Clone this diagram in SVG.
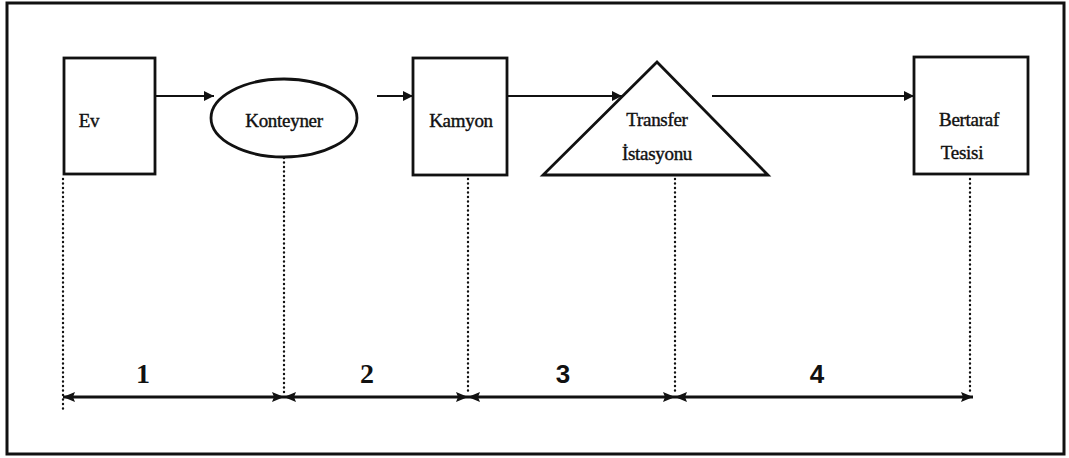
<svg xmlns="http://www.w3.org/2000/svg" width="1069" height="458" viewBox="0 0 1069 458">
<style>
.shape{fill:#fff;stroke:#111;stroke-width:2.8}
.lbl{font-family:"Liberation Serif","Times New Roman",serif;font-size:19px;fill:#111;stroke:#111;stroke-width:0.4;text-anchor:middle;letter-spacing:-0.3px}
.flow{stroke:#111;stroke-width:2;fill:none}
.dot{stroke:#111;stroke-width:2.4;stroke-linecap:round;stroke-dasharray:0 4.5;fill:none}
.dim{stroke:#111;stroke-width:2.8;fill:none}
.numS{font-family:"Liberation Serif","Times New Roman",serif;font-size:28px;font-weight:bold;fill:#111;text-anchor:middle}
.numA{font-family:"Liberation Sans",Arial,sans-serif;font-size:26px;font-weight:bold;fill:#111;text-anchor:middle}
</style>
<defs>
<marker id="ah" viewBox="0 0 10 10" refX="10" refY="5" markerWidth="10" markerHeight="10" markerUnits="userSpaceOnUse" orient="auto-start-reverse">
<path d="M0,0 L10,5 L0,10 z" fill="#111"/>
</marker>
<marker id="dh" viewBox="0 0 12 10" refX="12" refY="5" markerWidth="12" markerHeight="10" markerUnits="userSpaceOnUse" orient="auto-start-reverse">
<path d="M0,0 L12,5 L0,10 L2,5 z" fill="#111"/>
</marker>
</defs>
<rect x="0" y="0" width="1069" height="458" fill="#fff"/>
<rect x="7" y="3" width="1057" height="451" fill="none" stroke="#111" stroke-width="3"/>

<g id="ev">
<rect class="shape" x="64" y="58" width="91" height="116"/>
<text class="lbl" x="89" y="127">Ev</text>
</g>
<g id="konteyner">
<ellipse class="shape" cx="284" cy="118" rx="73" ry="39"/>
<text class="lbl" x="284" y="127">Konteyner</text>
</g>
<g id="kamyon">
<rect class="shape" x="413" y="58" width="94" height="117"/>
<text class="lbl" x="461" y="127">Kamyon</text>
</g>
<g id="transfer">
<polygon class="shape" points="657,62 543,175 768,175"/>
<text class="lbl" x="657" y="126">Transfer</text>
<text class="lbl" x="657" y="160">İstasyonu</text>
</g>
<g id="bertaraf">
<rect class="shape" x="914" y="57" width="114" height="117"/>
<text class="lbl" x="969" y="126">Bertaraf</text>
<text class="lbl" x="962" y="159">Tesisi</text>
</g>

<g id="connectors">
<line class="flow" x1="155" y1="96" x2="214" y2="96" stroke-width="2.8" marker-end="url(#ah)"/>
<line class="flow" x1="377" y1="96" x2="413" y2="96" marker-end="url(#ah)"/>
<line class="flow" x1="507" y1="96" x2="622" y2="96" marker-end="url(#ah)"/>
<line class="flow" x1="712" y1="96" x2="914" y2="96" marker-end="url(#ah)"/>
</g>

<g id="guides">
<line class="dot" x1="63" y1="179" x2="63" y2="410"/>
<line class="dot" x1="284" y1="158" x2="284" y2="395"/>
<line class="dot" x1="468" y1="179" x2="468" y2="395"/>
<line class="dot" x1="675" y1="179" x2="675" y2="395"/>
<line class="dot" x1="970" y1="179" x2="970" y2="393"/>
</g>

<g id="dimensions">
<line class="dim" x1="63" y1="397" x2="284" y2="397" marker-start="url(#dh)" marker-end="url(#dh)"/>
<line class="dim" x1="284" y1="397" x2="468" y2="397" marker-start="url(#dh)" marker-end="url(#dh)"/>
<line class="dim" x1="468" y1="397" x2="675" y2="397" marker-start="url(#dh)" marker-end="url(#dh)"/>
<line class="dim" x1="675" y1="397" x2="973" y2="397" marker-start="url(#dh)" marker-end="url(#dh)"/>
<text class="numS" x="143" y="383">1</text>
<text class="numS" x="367" y="383">2</text>
<text class="numA" x="563" y="383">3</text>
<text class="numA" x="817" y="383">4</text>
</g>
</svg>
